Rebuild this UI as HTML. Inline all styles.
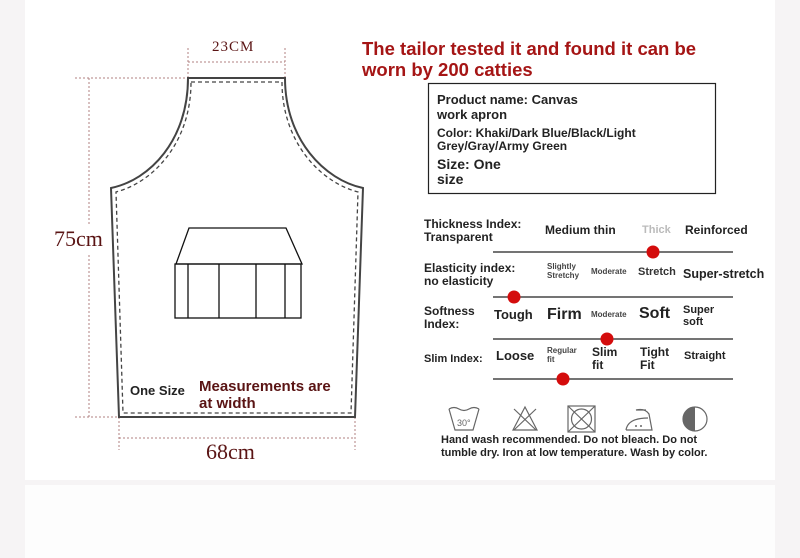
<!DOCTYPE html>
<html><head><meta charset="utf-8"><style>
html,body{margin:0;padding:0}
body{width:800px;height:558px;position:relative;background:#f6f4f5;overflow:hidden;font-family:"Liberation Sans",sans-serif}
.p{position:absolute;left:25px;width:750px;background:#fff}
.t{position:absolute;white-space:nowrap;color:#222;line-height:1.1}
.s{font-family:"Liberation Serif",serif;color:#5a1414}
.b{font-weight:bold}
</style></head><body>
<div class="p" style="top:0;height:480px"></div>
<div class="p" style="top:485px;height:73px;background:#fdfdfd"></div>
<svg style="position:absolute;left:0;top:0" width="800" height="558">
<g fill="none" stroke="#b08080" stroke-width="1" stroke-dasharray="2,2">
<line x1="188" y1="62" x2="285" y2="62"/><line x1="188" y1="48" x2="188" y2="78"/><line x1="285" y1="48" x2="285" y2="78"/>
<line x1="89" y1="78" x2="89" y2="225"/><line x1="89" y1="255" x2="89" y2="417"/>
<line x1="75" y1="78" x2="188" y2="78"/><line x1="75" y1="417" x2="119" y2="417"/>
<line x1="119" y1="438" x2="355" y2="438"/><line x1="119" y1="417" x2="119" y2="450"/><line x1="355" y1="417" x2="355" y2="450"/>
</g>
<path d="M188,78 L285,78 C285,140 325,180 363,188 L355,417 L119,417 L111,188 C150,180 188,140 188,78 Z" fill="none" stroke="#444" stroke-width="2"/>
<path d="M191,82 L282,82 C282,142 320,182 358,192 L351,413 L123,413 L116,192 C154,182 191,142 191,82 Z" fill="none" stroke="#444" stroke-width="1.3" stroke-dasharray="4,3"/>
<g fill="none" stroke="#111" stroke-width="1.3">
<path d="M189,228 L286,228 L302,264 L176,264 Z"/>
<rect x="175" y="264" width="126" height="54"/>
<line x1="188" y1="264" x2="188" y2="318"/><line x1="219" y1="264" x2="219" y2="318"/><line x1="256" y1="264" x2="256" y2="318"/><line x1="285" y1="264" x2="285" y2="318"/>
</g>
<rect x="428.5" y="83.5" width="287" height="110" fill="none" stroke="#222" stroke-width="1.2"/>
<g stroke="#222" stroke-width="1.2">
<line x1="493" y1="252" x2="733" y2="252"/><line x1="493" y1="297" x2="733" y2="297"/><line x1="493" y1="339" x2="733" y2="339"/><line x1="493" y1="379" x2="733" y2="379"/>
</g>
<g fill="#d40c0c"><circle cx="653" cy="252" r="6.5"/><circle cx="514" cy="297" r="6.5"/><circle cx="607" cy="339" r="6.5"/><circle cx="563" cy="379" r="6.5"/></g>
<g fill="none" stroke="#666" stroke-width="1.2">
<path d="M449,409 L455,430 L473,430 L479,409"/><path d="M449,409 q5,-3 10,0 q5,3 10,0 q5,-3 10,0"/>
<path d="M525,407 L513,430 L537,430 Z"/><line x1="514" y1="409" x2="536" y2="430"/><line x1="536" y1="409" x2="514" y2="430"/>
<rect x="568" y="406" width="27" height="26"/><circle cx="581.5" cy="419" r="10"/><line x1="568" y1="406" x2="595" y2="432"/><line x1="595" y1="406" x2="568" y2="432"/>
<path d="M626,430 L652,430 L649,414 Q645,408 636,410 L646,410 M626,430 Q628,418 648,418"/>
<circle cx="695" cy="419" r="12"/>
</g>
<text x="457" y="426" font-size="9" fill="#666" font-family="Liberation Sans,sans-serif">30°</text>
<circle cx="636" cy="426" r="1" fill="#666"/><circle cx="641" cy="426" r="1" fill="#666"/>
<path d="M695,407 A12,12 0 0 0 695,431 Z" fill="#666"/>
</svg>
<div class="t s" style="left:212px;top:39px;font-size:15px;letter-spacing:1px">23CM</div>
<div class="t s" style="left:54px;top:227px;font-size:22px">75cm</div>
<div class="t s" style="left:206px;top:440px;font-size:22px">68cm</div>
<div class="t b" style="left:130px;top:384px;font-size:13px">One Size</div>
<div class="t b" style="left:199px;top:378px;font-size:15px;color:#5a1414;line-height:1.15">Measurements are<br>at width</div>
<div class="t b" style="left:362px;top:38px;font-size:18.5px;color:#a51515;line-height:1.15">The tailor tested it and found it can be<br>worn by 200 catties</div>
<div class="t b" style="left:437px;top:93px;font-size:13px;line-height:1.15">Product name: Canvas<br>work apron</div>
<div class="t b" style="left:437px;top:127px;font-size:12px;line-height:1.1">Color: Khaki/Dark Blue/Black/Light<br>Grey/Gray/Army Green</div>
<div class="t b" style="left:437px;top:157px;font-size:14px;line-height:1.1">Size: One<br>size</div>
<div class="t b" style="left:424px;top:218px;font-size:12px">Thickness Index:<br>Transparent</div>
<div class="t b" style="left:545px;top:224px;font-size:12px">Medium thin</div>
<div class="t b" style="left:642px;top:224px;font-size:11px;color:#bbb">Thick</div>
<div class="t b" style="left:685px;top:224px;font-size:12px">Reinforced</div>
<div class="t b" style="left:424px;top:262px;font-size:12px">Elasticity index:<br>no elasticity</div>
<div class="t b" style="left:547px;top:263px;font-size:8px;color:#444">Slightly<br>Stretchy</div>
<div class="t b" style="left:591px;top:268px;font-size:8px;color:#444">Moderate</div>
<div class="t b" style="left:638px;top:266px;font-size:11px;color:#333">Stretch</div>
<div class="t b" style="left:683px;top:268px;font-size:12.5px">Super-stretch</div>
<div class="t b" style="left:424px;top:305px;font-size:12px">Softness<br>Index:</div>
<div class="t b" style="left:494px;top:308px;font-size:13px">Tough</div>
<div class="t b" style="left:547px;top:306px;font-size:16px">Firm</div>
<div class="t b" style="left:591px;top:311px;font-size:8px;color:#444">Moderate</div>
<div class="t b" style="left:639px;top:305px;font-size:16px">Soft</div>
<div class="t b" style="left:683px;top:304px;font-size:11px">Super<br>soft</div>
<div class="t b" style="left:424px;top:353px;font-size:11px">Slim Index:</div>
<div class="t b" style="left:496px;top:349px;font-size:13px">Loose</div>
<div class="t b" style="left:547px;top:347px;font-size:8px;color:#444">Regular<br>fit</div>
<div class="t b" style="left:592px;top:346px;font-size:12px">Slim<br>fit</div>
<div class="t b" style="left:640px;top:346px;font-size:12px">Tight<br>Fit</div>
<div class="t b" style="left:684px;top:350px;font-size:11px">Straight</div>
<div class="t b" style="left:441px;top:434px;font-size:11px;line-height:1.2">Hand wash recommended. Do not bleach. Do not<br>tumble dry. Iron at low temperature. Wash by color.</div>
</body></html>
